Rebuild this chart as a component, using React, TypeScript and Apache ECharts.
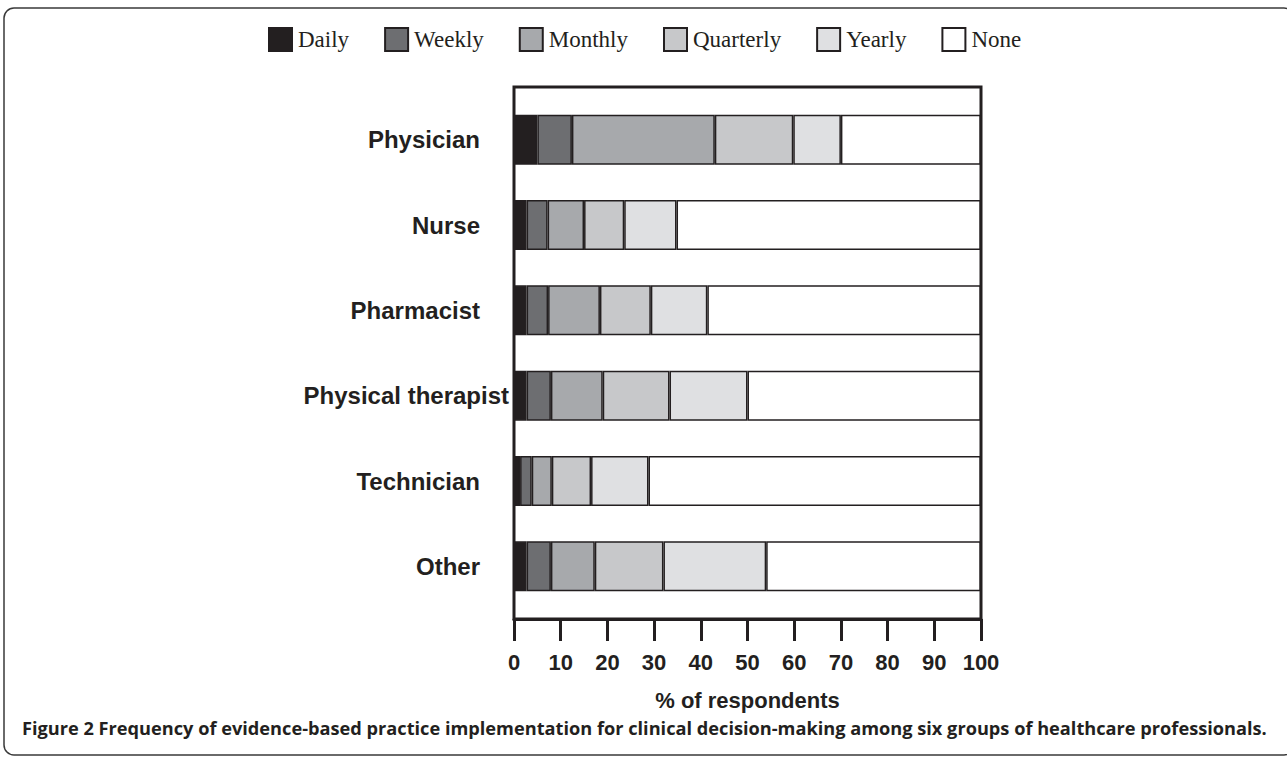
import React, { useEffect, useRef } from "react";
import * as echarts from "echarts";

const categories = ["Physician", "Nurse", "Pharmacist", "Physical therapist", "Technician", "Other"];
const seriesNames = ["Daily", "Weekly", "Monthly", "Quarterly", "Yearly", "None"];
const daily = [5, 2.7, 2.7, 2.7, 1.3, 2.7];
const weekly = [7.4, 4.5, 4.6, 5.2, 2.5, 5.2];
const monthly = [30.6, 7.8, 11.1, 11.1, 4.3, 9.4];
const quarterly = [16.8, 8.6, 10.9, 14.3, 8.4, 14.7];
const yearly = [10.2, 11.2, 12.1, 16.7, 12.3, 22.0];
const none = [30.0, 65.2, 58.6, 50.0, 71.2, 46.0];
const xTicks = [0, 10, 20, 30, 40, 50, 60, 70, 80, 90, 100];
const colors = ["#231f20", "#6d6e71", "#a7a9ac", "#c7c8ca", "#dfe0e2", "#ffffff"];
const caption =
  "Figure 2 Frequency of evidence-based practice implementation for clinical decision-making among six groups of healthcare professionals.";

const INK = "#231f20";
const SANS = "Liberation Sans, Arial, sans-serif";

export default function App() {
  const ref = useRef<HTMLDivElement>(null);
  useEffect(() => {
    if (!ref.current) return;
    const chart = echarts.init(ref.current, undefined, { renderer: "svg" });
    const values = [daily, weekly, monthly, quarterly, yearly, none];
    const gridLeft = 514;
    const gridRight = 1287 - 981;
    chart.setOption({
      animation: false,
      backgroundColor: "#ffffff",
      legend: {
        data: seriesNames.map((n) => ({ name: n, icon: "rect" })),
        left: 263,
        top: 22,
        padding: 5,
        itemWidth: 23,
        itemHeight: 23,
        itemGap: 35,
        itemStyle: { borderColor: INK, borderWidth: 2 },
        textStyle: { fontFamily: "Liberation Serif, Times New Roman, serif", fontSize: 23, color: INK, padding: [0, 0, 0, 1] },
      },
      grid: [
        { left: gridLeft, right: gridRight, top: 97, height: 512, containLabel: false },
        {
          left: gridLeft,
          right: gridRight,
          top: 87,
          height: 532,
          show: true,
          borderColor: INK,
          borderWidth: 3,
          backgroundColor: "transparent",
          z: 5,
        },
      ],
      xAxis: [
        { gridIndex: 0, type: "value", min: 0, max: 100, show: false },
        {
          gridIndex: 1,
          type: "value",
          min: 0,
          max: 100,
          interval: 10,
          position: "bottom",
          axisLine: { show: true, lineStyle: { color: INK, width: 3 } },
          axisTick: { show: true, inside: false, length: 22, lineStyle: { color: INK, width: 3 } },
          splitLine: { show: false },
          axisLabel: {
            margin: 32,
            fontFamily: SANS,
            fontWeight: "bold",
            fontSize: 22,
            color: INK,
            formatter: (v: number) => (xTicks.includes(v) ? String(v) : ""),
          },
          name: "% of respondents",
          nameLocation: "middle",
          nameGap: 70,
          nameTextStyle: {
            fontFamily: SANS,
            fontWeight: "bold",
            fontSize: 22,
            color: INK,
          },
        },
      ],
      yAxis: [
        {
          gridIndex: 0,
          type: "category",
          data: categories,
          inverse: true,
          axisLine: { show: false },
          axisTick: { show: false },
          axisLabel: {
            margin: 34,
            fontFamily: SANS,
            fontWeight: "bold",
            fontSize: 24,
            color: INK,
            formatter: (v: string) => (v === "Physical therapist" ? `{shift|${v}}` : `{n|${v}}`),
            rich: {
              n: { fontFamily: SANS, fontWeight: "bold", fontSize: 24, color: INK },
              shift: { fontFamily: SANS, fontWeight: "bold", fontSize: 24, color: INK, padding: [0, -29, 0, 0] },
            },
          },
        },
        { gridIndex: 1, type: "value", min: 0, max: 1, show: false },
      ],
      series: seriesNames.map((name, i) => ({
        name,
        type: "bar",
        stack: "total",
        xAxisIndex: 0,
        yAxisIndex: 0,
        barWidth: 50,
        data: values[i],
        itemStyle: { color: colors[i], borderColor: INK, borderWidth: 1.5 },
        emphasis: { disabled: true },
      })),
      graphic: [
        {
          type: "rect",
          shape: { x: 4, y: 8, width: 1290, height: 747, r: 10 },
          style: { fill: "none", stroke: "#3a3a3a", lineWidth: 1.5 },
          z: -1,
        },
        {
          type: "text",
          left: 22,
          top: 719,
          style: {
            text: caption,
            fontFamily: "Open Sans, Noto Sans, sans-serif",
            fontWeight: "bold",
            fontSize: 18.2,
            fill: INK,
          },
        },
      ],
    });
    return () => chart.dispose();
  }, []);
  return <div ref={ref} style={{ width: 1287, height: 758, position: "absolute", left: 0, top: 0 }} />;
}
